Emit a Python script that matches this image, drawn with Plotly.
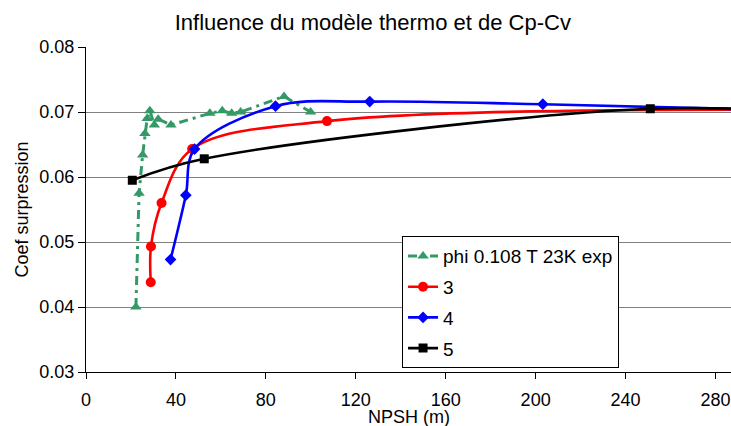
import plotly.graph_objects as go

# NPSH (m) / suppression coefficient for the measured run and three computed models
exp_npsh = [22.2, 23.6, 25.2, 26.2, 27.2, 28.4, 30.4, 32.1, 37.8, 55.1, 60.6, 64.8, 68.8, 88.1, 99.9]
exp_coef = [0.0400, 0.0575, 0.0634, 0.0667, 0.0690, 0.0702, 0.0680, 0.0689, 0.0680,
            0.0698, 0.0702, 0.0698, 0.0700, 0.0724, 0.0700]

m3_npsh = [28.8, 28.9, 33.6, 47.2, 107.2, 330.0]
m3_coef = [0.0438, 0.0493, 0.0560, 0.0643, 0.0686, 0.0703]

m4_npsh = [37.6, 44.4, 48.3, 84.3, 126.2, 203.2, 330.0]
m4_coef = [0.0473, 0.0572, 0.0643, 0.0709, 0.0716, 0.0712, 0.0701]

m5_npsh = [20.6, 52.6, 251.0, 330.0]
m5_coef = [0.0595, 0.0628, 0.0705, 0.0697]

x_ticks = [0, 40, 80, 120, 160, 200, 240, 280]
y_ticks = [0.03, 0.04, 0.05, 0.06, 0.07, 0.08]

FONT = "Liberation Sans, Arial, sans-serif"

fig = go.Figure()

fig.add_trace(go.Scatter(
    x=exp_npsh, y=exp_coef, mode="lines+markers", name="phi 0.108 T 23K exp",
    legendgroup="a",
    line=dict(color="#339966", width=3, dash="9px,5px,3px,5px"),
    marker=dict(symbol="triangle-up", size=10, color="#339966"),
))
fig.add_trace(go.Scatter(
    x=m3_npsh, y=m3_coef, mode="lines+markers", name="3", legendgroup="b",
    line=dict(color="#ff0000", width=2.6, shape="spline", smoothing=1.0),
    marker=dict(symbol="circle", size=10, color="#ff0000"),
))
fig.add_trace(go.Scatter(
    x=m4_npsh, y=m4_coef, mode="lines+markers", name="4", legendgroup="c",
    line=dict(color="#0000ff", width=2.6, shape="spline", smoothing=1.0),
    marker=dict(symbol="diamond", size=9, color="#0000ff"),
))
fig.add_trace(go.Scatter(
    x=m5_npsh, y=m5_coef, mode="lines+markers", name="5", legendgroup="d",
    line=dict(color="#000000", width=2.6, shape="spline", smoothing=1.0),
    marker=dict(symbol="square", size=9, color="#000000"),
))

fig.update_layout(
    width=731, height=426,
    margin=dict(l=86, r=0, t=47, b=54),
    paper_bgcolor="white", plot_bgcolor="white",
    font=dict(family=FONT, size=18, color="black"),
    title=dict(text="Influence du modèle thermo et de Cp-Cv",
               x=0.51, xref="container", xanchor="center",
               y=0.948, yref="container", yanchor="middle",
               font=dict(family=FONT, size=22, color="black")),
    showlegend=True,
    legend=dict(x=0.49, y=0.418, xanchor="left", yanchor="top",
                bgcolor="white", bordercolor="black", borderwidth=1,
                font=dict(family=FONT, size=19, color="black"),
                tracegroupgap=3, itemwidth=30),
    annotations=[dict(text="NPSH (m)", xref="paper", yref="paper",
                      x=0.5, y=-0.138, xanchor="center", yanchor="middle",
                      showarrow=False, font=dict(family=FONT, size=18, color="black"))],
)

fig.update_xaxes(
    range=[0, 286.9], tickvals=x_ticks, ticktext=[str(v) for v in x_ticks],
    showgrid=False, zeroline=False,
    showline=True, linecolor="black", linewidth=1,
    ticks="outside", ticklen=6, tickcolor="black",
    ticklabelstandoff=5,
)
fig.update_yaxes(
    range=[0.03, 0.08], tickvals=y_ticks, ticktext=[f"{v:.2f}" for v in y_ticks],
    showgrid=True, gridcolor="#808080", gridwidth=1, zeroline=False,
    showline=True, linecolor="black", linewidth=1,
    ticks="outside", ticklen=7, tickcolor="black",
    title=dict(text="Coef surpression", standoff=6, font=dict(size=18)),
)

fig.write_html("out.html")
